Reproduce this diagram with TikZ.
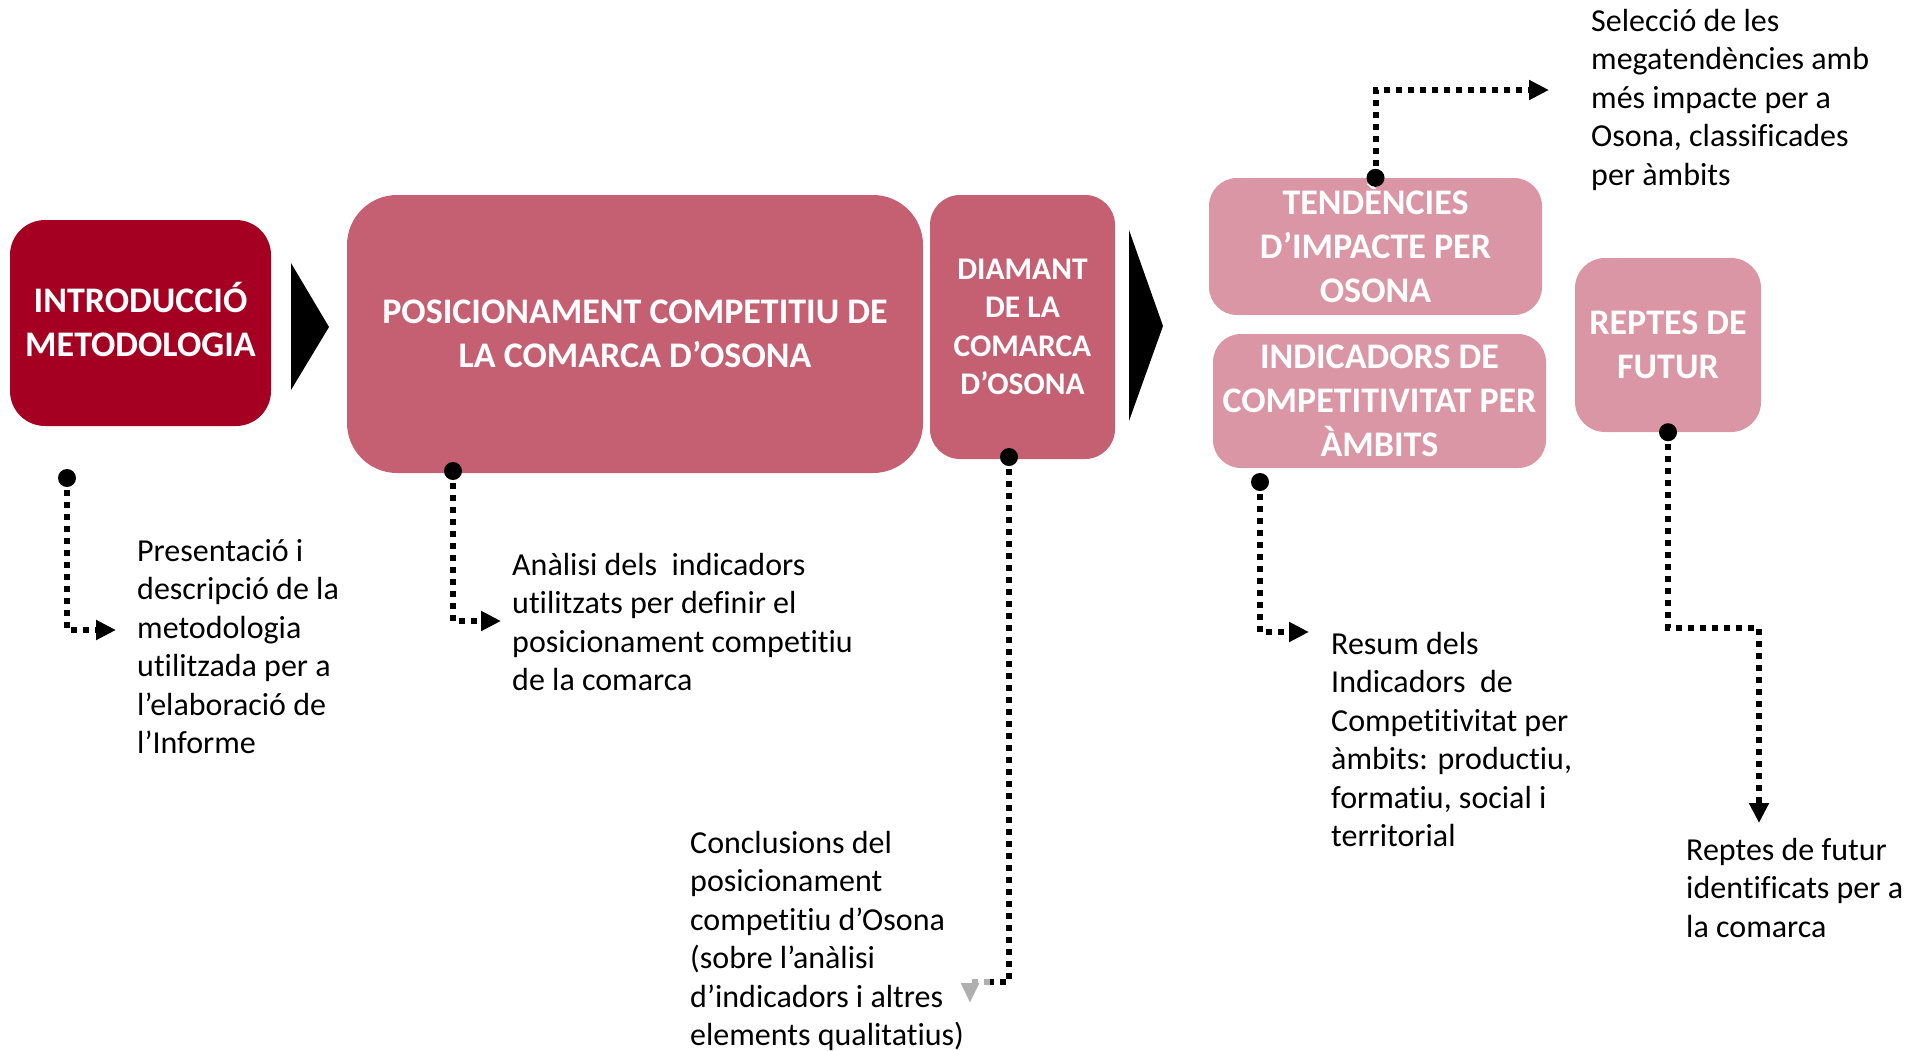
\documentclass[tikz,border=0pt]{standalone}
\usepackage{fontspec}
\setmainfont{Carlito}[RawFeature={-liga;-clig;-calt;-dlig}]
\usetikzlibrary{arrows.meta}
\definecolor{darkred}{RGB}{165,0,33}
\definecolor{midrose}{RGB}{197,96,115}
\definecolor{lightrose}{RGB}{218,150,164}
\definecolor{arrowgray}{RGB}{175,175,175}
\begin{document}
\begin{tikzpicture}[x=1pt,y=-1pt,
  boxtext/.style={inner sep=0pt, align=center, text=white,
    font=\bfseries\fontsize{36}{44}\selectfont},
  bodytext/.style={anchor=north west, inner sep=0pt, align=left,
    font=\fontsize{32}{38.5}\selectfont},
  dotn/.style={circle, fill=black, inner sep=0pt, minimum size=18pt},
  dotline/.style={line width=6pt, dash pattern=on 6pt off 6pt, draw=black},
  arr/.style={-{Triangle[length=20pt,width=19pt]}}
]
\useasboundingbox (0,0) rectangle (1925,1050);

% boxes
\node[boxtext, fill=darkred, rounded corners=35pt, minimum width=261pt, minimum height=206pt]
  (intro) at (140.5,323) {\smash{INTRODUCCIÓ}\vphantom{M}\\METODOLOGIA};
\node[boxtext, fill=midrose, rounded corners=50pt, minimum width=576pt, minimum height=278pt]
  (posic) at (635,334) {POSICIONAMENT COMPETITIU DE\\LA COMARCA D’OSONA};
\node[boxtext, fill=midrose, rounded corners=30pt, minimum width=185pt, minimum height=264pt,
  font=\bfseries\fontsize{31.5}{38.5}\selectfont]
  (diam) at (1022.5,327) {DIAMANT\\DE LA\\COMARCA\\D’OSONA};
\node[boxtext, fill=lightrose, rounded corners=28pt, minimum width=333pt, minimum height=137pt]
  (tend) at (1375.5,246.5) {\smash{TENDÈNCIES}\vphantom{M}\\D’IMPACTE PER\\OSONA};
\node[boxtext, fill=lightrose, rounded corners=28pt, minimum width=333pt, minimum height=134pt]
  (indic) at (1379.5,401) {INDICADORS DE\\COMPETITIVITAT PER\\ÀMBITS};
\node[boxtext, fill=lightrose, rounded corners=30pt, minimum width=186pt, minimum height=174pt]
  (reptes) at (1668,345) {REPTES DE\\FUTUR};

% big black arrowheads
\fill[black] (291,263) -- (329,327) -- (291,390) -- cycle;
\fill[black] (1129,230) -- (1163,326) -- (1129,421) -- cycle;

% texts
\node[bodytext] (t1) at (137,535) {\rule{0pt}{26pt}Presentació i\\descripció de la\\metodologia\\utilitzada per a\\l’elaboració de\\l’Informe};
\node[bodytext] (t2) at (512,549) {\rule{0pt}{26pt}Anàlisi dels~ indicadors\\utilitzats per definir el\\posicionament competitiu\\de la comarca};
\node[bodytext] (t3) at (690,827) {\rule{0pt}{26pt}Conclusions del\\posicionament\\competitiu d’Osona\\(sobre l’anàlisi\\d’indicadors i altres\\elements qualitatius)};
\node[bodytext] (t4) at (1331,628) {\rule{0pt}{26pt}Resum dels\\Indicadors~ de\\Competitivitat per\\àmbits: productiu,\\formatiu, social i\\territorial};
\node[bodytext] (t5) at (1686,834) {\rule{0pt}{26pt}Reptes de futur\\identificats per a\\la comarca};
\node[bodytext] (t6) at (1591,5) {\rule{0pt}{26pt}Selecció de les\\megatendències amb\\més impacte per a\\Osona, classificades\\per àmbits};

% dots
\node[dotn] (d1) at (67,478) {};
\node[dotn] (d2) at (453,471) {};
\node[dotn] (d3) at (1009,457) {};
\node[dotn] (d4) at (1260,482) {};
\node[dotn] (d5) at (reptes.south) {};
\node[dotn] (d6) at (tend.north) {};

% connector ends
\coordinate (e1) at (116,630);
\coordinate (e2) at (501,621);
\coordinate (c3) at (990,982);
\coordinate (e3) at (970,1003);
\coordinate (e4) at (1309,632);
\coordinate (c5) at (1759,628);
\coordinate (e5) at (1759,823);
\coordinate (e6) at (1549,90);

% connectors
\draw[dotline, arr] (d1.center) |- (e1);
\draw[dotline, arr] (d2.center) |- (e2);
\draw[dotline] (d3.center) |- (c3);
\draw[dotline, draw=arrowgray, -{Triangle[length=20pt,width=17pt]}] (c3) -| (e3);
\draw[dotline, arr] (d4.center) |- (e4);
\draw[dotline, arr] (d5.center) |- (c5) -- (e5);
\draw[dotline, arr] (d6.center) |- (e6);
\end{tikzpicture}
\end{document}
